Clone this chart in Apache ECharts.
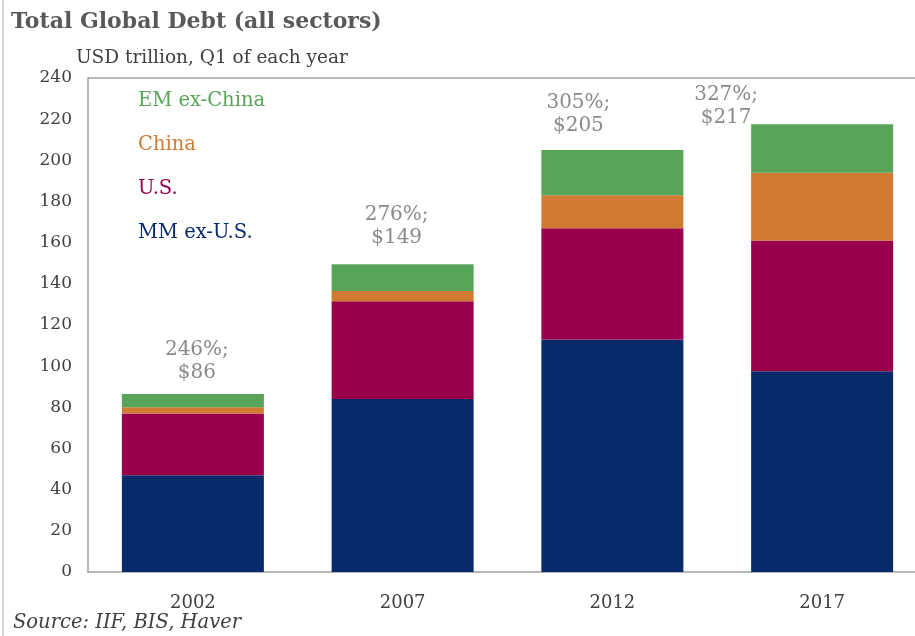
<!DOCTYPE html>
<html>
<head>
<meta charset="utf-8">
<script src="https://cdn.jsdelivr.net/npm/echarts@6/dist/echarts.min.js"></script>
<style>html,body{margin:0;padding:0;background:#fff;overflow:hidden}#c{width:927px;height:636px}</style>
</head>
<body>
<div id="c"></div>
<script>
var categories = ['2002', '2007', '2012', '2017'];
var mmExUS = [47, 84, 113, 97.5];
var us = [30, 47.5, 54, 63.5];
var china = [3, 5, 16, 33];
var emExChina = [6.5, 13, 22, 23.5];
var debtPctGDP = ['246%', '276%', '305%', '327%'];
var totals = ['$86', '$149', '$205', '$217'];
var yTicks = [0, 240, 20];

var FONT = 'DejaVu Serif';
var labelOffsets = [[4, 2], [-6, -3], [-34, -1], [-96, 17]];

var chart = echarts.init(document.getElementById('c'), null, {renderer: 'canvas'});

function series(name, data, color, withLabel) {
  var s = {
    name: name,
    type: 'bar',
    stack: 'debt',
    barWidth: '67.7%',
    itemStyle: {color: color},
    data: data.map(function (v, i) {
      var item = {value: v};
      if (withLabel) {
        item.label = {offset: labelOffsets[i]};
      }
      return item;
    })
  };
  if (withLabel) {
    s.label = {
      show: true,
      position: 'top',
      distance: 12,
      color: '#8a8a8a',
      fontFamily: FONT,
      fontSize: 20,
      lineHeight: 23,
      align: 'center',
      formatter: function (p) {
        return debtPctGDP[p.dataIndex] + ';\n' + totals[p.dataIndex];
      }
    };
  }
  return s;
}

chart.setOption({
  animation: false,
  backgroundColor: '#fff',
  title: [
    {text: 'Total Global Debt (all sectors)', left: 6, top: 6,
     textStyle: {fontFamily: FONT, fontWeight: 'bold', fontSize: 22, color: '#595959'}},
    {text: 'USD trillion, Q1 of each year', left: 71, top: 44,
     textStyle: {fontFamily: FONT, fontWeight: 'normal', fontSize: 18.5, color: '#404040'}},
    {text: 'Source: IIF, BIS, Haver', left: 8, top: 608,
     textStyle: {fontFamily: FONT, fontWeight: 'normal', fontStyle: 'italic', fontSize: 19.5, color: '#404040'}}
  ],
  legend: {
    orient: 'vertical',
    left: 128,
    top: 86,
    itemWidth: 0,
    itemHeight: 0,
    itemGap: 24,
    icon: 'rect',
    selectedMode: false,
    textStyle: {fontFamily: FONT, fontSize: 19.5},
    data: [
      {name: 'EM ex-China', textStyle: {color: '#58a55a'}},
      {name: 'China', textStyle: {color: '#d17a32'}},
      {name: 'U.S.', textStyle: {color: '#9b004c'}},
      {name: 'MM ex-U.S.', textStyle: {color: '#062a6a'}}
    ]
  },
  grid: {left: 88, right: 0, top: 78, bottom: 64, containLabel: false},
  xAxis: {
    type: 'category',
    data: categories,
    axisLine: {show: true, lineStyle: {color: '#a0a0a0', width: 1.5}},
    axisTick: {show: false},
    axisLabel: {fontFamily: FONT, fontSize: 18, color: '#404040', margin: 22}
  },
  yAxis: {
    type: 'value',
    min: yTicks[0],
    max: yTicks[1],
    interval: yTicks[2],
    axisLine: {show: true, lineStyle: {color: '#a0a0a0', width: 1.5}},
    axisTick: {show: false},
    splitLine: {show: false},
    axisLabel: {fontFamily: FONT, fontSize: 17, color: '#404040', margin: 16}
  },
  graphic: [
    {type: 'line', shape: {x1: 88, y1: 78, x2: 927, y2: 78}, style: {stroke: '#a0a0a0', lineWidth: 1.5}},
    {type: 'line', shape: {x1: 3, y1: 0, x2: 3, y2: 636}, style: {stroke: '#c8c8c8', lineWidth: 1.5}}
  ],
  series: [
    series('MM ex-U.S.', mmExUS, '#062a6a', false),
    series('U.S.', us, '#9b004c', false),
    series('China', china, '#d17a32', false),
    series('EM ex-China', emExChina, '#58a55a', true)
  ]
});
</script>
</body>
</html>
